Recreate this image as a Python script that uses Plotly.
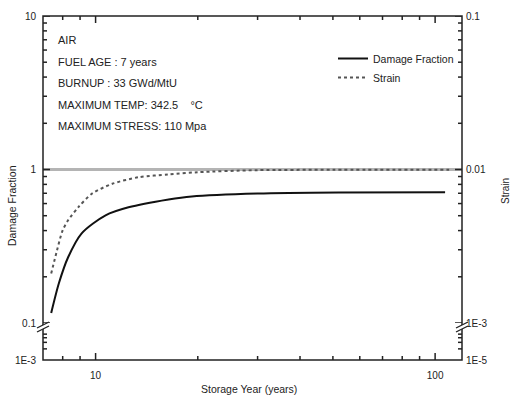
import math
import plotly.graph_objects as go

# ---- data -------------------------------------------------------------
damage_years = [7.4, 7.8, 8.3, 9.1, 10.7, 12.5, 16.4, 19.2, 30.0, 52.0, 107.0]
damage_fraction = [0.116, 0.182, 0.268, 0.384, 0.503, 0.567, 0.638, 0.668, 0.698, 0.709, 0.710]

strain_years = [7.4, 7.7, 8.0, 8.3, 8.9, 9.75, 11.2, 13.4, 16.4, 20.0, 30.0, 50.0, 110.0]
strain = [0.0021, 0.00298, 0.00402, 0.00467, 0.00569, 0.00695, 0.00807, 0.00891,
          0.00928, 0.0096, 0.0099, 0.00995, 0.00997]

x_ticks = [10, 100]
x_ticktext = ["10", "100"]
x_minor = [8, 9, 20, 30, 40, 50, 60, 70, 80, 90]

left_ticks = [0.1, 1, 10]
left_ticktext = ["0.1", "1", "10"]
left_minor = [0.2, 0.3, 0.4, 0.5, 0.6, 0.7, 0.8, 0.9, 2, 3, 4, 5, 6, 7, 8, 9]
left_lower_ticks = [0.001]
left_lower_ticktext = ["1E-3"]
left_lower_minor = [0.002, 0.003, 0.004, 0.005]

right_ticks = [0.001, 0.01, 0.1]
right_ticktext = ["1E-3", "0.01", "0.1"]
right_minor = [0.002, 0.003, 0.004, 0.005, 0.006, 0.007, 0.008, 0.009,
               0.02, 0.03, 0.04, 0.05, 0.06, 0.07, 0.08, 0.09]
right_lower_ticks = [1e-5]
right_lower_ticktext = ["1E-5"]
right_lower_minor = [2e-5, 3e-5, 4e-5, 5e-5]

info_lines = [
    "AIR",
    "FUEL AGE : 7 years",
    "BURNUP : 33 GWd/MtU",
    "MAXIMUM TEMP: 342.5 \u00a0 \u00a0\u00b0C",
    "MAXIMUM STRESS: 110 Mpa",
]

# ---- geometry -----------------------------------------------------------
W, H = 511, 398
ML, MR, MT, MB = 43, 49, 16, 38
PW, PH = W - ML - MR, H - MT - MB
BREAK = 37 / PH  # height fraction of the lower (broken) axis segment

FONT = "Liberation Sans, Arial, sans-serif"
INK = "#222222"
MAJOR_LEN, MINOR_LEN = 7, 4
TICK_W = 1.5


def px_x(p):
    return (p - ML) / PW


def px_y(p):
    return (H - MB - p) / PH


fig = go.Figure()
fig.add_trace(go.Scatter(
    x=damage_years, y=damage_fraction, name="Damage Fraction",
    mode="lines", line=dict(color="#111111", width=2, shape="spline", smoothing=0.8),
    xaxis="x", yaxis="y",
))
fig.add_trace(go.Scatter(
    x=strain_years, y=strain, name="Strain",
    mode="lines", line=dict(color="#555555", width=2, dash="dot", shape="spline", smoothing=0.8),
    xaxis="x", yaxis="y2",
))
# empty traces so the lower (broken) axis segments get their own subplots
for ya in ("y3", "y4"):
    fig.add_trace(go.Scatter(x=[], y=[], xaxis="x", yaxis=ya, mode="lines",
                             showlegend=False, hoverinfo="skip"))

labelstyle = dict(ticks="", showline=False, showgrid=False, zeroline=False,
                  automargin=False, tickmode="array",
                  tickfont=dict(family=FONT, size=10, color=INK))

xr = [math.log10(7), math.log10(120)]
fig.update_layout(
    width=W, height=H,
    margin=dict(l=ML, r=MR, t=MT, b=MB, pad=0, autoexpand=False),
    paper_bgcolor="white", plot_bgcolor="white",
    showlegend=True,
    legend=dict(x=px_x(333), y=px_y(44), xanchor="left", yanchor="top",
                bgcolor="rgba(0,0,0,0)", borderwidth=0,
                font=dict(family=FONT, size=10.5, color=INK),
                itemwidth=30, tracegroupgap=0),
    xaxis=dict(type="log", range=xr, anchor="y3", tickvals=x_ticks, ticktext=x_ticktext,
               ticklabelstandoff=8, **labelstyle),
    yaxis=dict(type="log", range=[-1, 1], domain=[BREAK, 1], anchor="x",
               tickvals=left_ticks, ticktext=left_ticktext, ticklabelstandoff=6, **labelstyle),
    yaxis3=dict(type="log", range=[-3, -2], domain=[0, BREAK], anchor="x",
                tickvals=left_lower_ticks, ticktext=left_lower_ticktext,
                ticklabelstandoff=6, **labelstyle),
    yaxis2=dict(type="log", range=[-3, -1], overlaying="y", side="right", anchor="x",
                tickvals=right_ticks, ticktext=right_ticktext, ticklabelstandoff=3,
                **labelstyle),
    yaxis4=dict(type="log", range=[-5, -4], overlaying="y3", side="right", anchor="x",
                tickvals=right_lower_ticks, ticktext=right_lower_ticktext,
                ticklabelstandoff=3, **labelstyle),
)

shapes = [
    # reference level at damage fraction = 1
    dict(type="line", xref="paper", yref="y", x0=0, x1=1, y0=1, y1=1,
         line=dict(color="#b4b4b4", width=3), layer="below"),
    # plot frame
    dict(type="rect", xref="paper", yref="paper", x0=0, x1=1, y0=0, y1=1,
         line=dict(color=INK, width=1.5)),
]


def xtick(v, length, edge):
    # inward tick on the bottom (edge=0) or top (edge=1) frame, placed on the x scale
    sgn = 1 if edge == 0 else -1
    return dict(type="line", xref="x", yref="paper", ysizemode="pixel", yanchor=edge,
                x0=v, x1=v, y0=0, y1=sgn * length, line=dict(color=INK, width=TICK_W))


def ytick(v, length, axis, edge):
    # inward tick on the left (edge=0) or right (edge=1) frame, placed on a y scale
    sgn = 1 if edge == 0 else -1
    return dict(type="line", xref="paper", yref=axis, xsizemode="pixel", xanchor=edge,
                x0=0, x1=sgn * length, y0=v, y1=v, line=dict(color=INK, width=TICK_W))


for edge in (0, 1):
    shapes += [xtick(v, MAJOR_LEN, edge) for v in x_ticks]
    shapes += [xtick(v, MINOR_LEN, edge) for v in x_minor]
shapes += [ytick(v, MAJOR_LEN, "y", 0) for v in left_ticks]
shapes += [ytick(v, MINOR_LEN, "y", 0) for v in left_minor]
shapes += [ytick(v, MINOR_LEN, "y3", 0) for v in left_lower_minor]
shapes += [ytick(v, MAJOR_LEN, "y2", 1) for v in right_ticks]
shapes += [ytick(v, MINOR_LEN, "y2", 1) for v in right_minor]
shapes += [ytick(v, MINOR_LEN, "y4", 1) for v in right_lower_minor]

# axis break marks on both vertical axes
for xa in (0, 1):
    shapes.append(dict(type="path", xref="paper", yref="paper",
                       xsizemode="pixel", ysizemode="pixel", xanchor=xa, yanchor=BREAK,
                       path="M-6,-5 L6,1 L6,-3 L-6,-9 Z",
                       fillcolor="white", line=dict(width=0)))
    for off in (0, -4):
        shapes.append(dict(type="line", xref="paper", yref="paper",
                           xsizemode="pixel", ysizemode="pixel", xanchor=xa, yanchor=BREAK,
                           x0=-6, x1=6, y0=-5 + off, y1=1 + off,
                           line=dict(color=INK, width=1.3)))
fig.update_layout(shapes=shapes)

annotations = []
for i, line in enumerate(info_lines):
    annotations.append(dict(
        text=line, xref="paper", yref="paper", x=px_x(56), y=px_y(40 + i * 21.6),
        xanchor="left", yanchor="middle", showarrow=False,
        font=dict(family=FONT, size=11, color=INK)))
annotations.append(dict(
    text="Storage Year (years)", xref="paper", yref="paper",
    x=px_x(249), y=px_y(389), xanchor="center", yanchor="middle", showarrow=False,
    font=dict(family=FONT, size=10.5, color=INK)))
annotations.append(dict(
    text="Damage Fraction", xref="paper", yref="paper", textangle=-90,
    x=px_x(12), y=px_y(206), xanchor="center", yanchor="middle", showarrow=False,
    font=dict(family=FONT, size=10.5, color=INK)))
annotations.append(dict(
    text="Strain", xref="paper", yref="paper", textangle=-90,
    x=px_x(505), y=px_y(191), xanchor="center", yanchor="middle", showarrow=False,
    font=dict(family=FONT, size=10, color=INK)))
fig.update_layout(annotations=annotations)

fig.write_html("out.html")
